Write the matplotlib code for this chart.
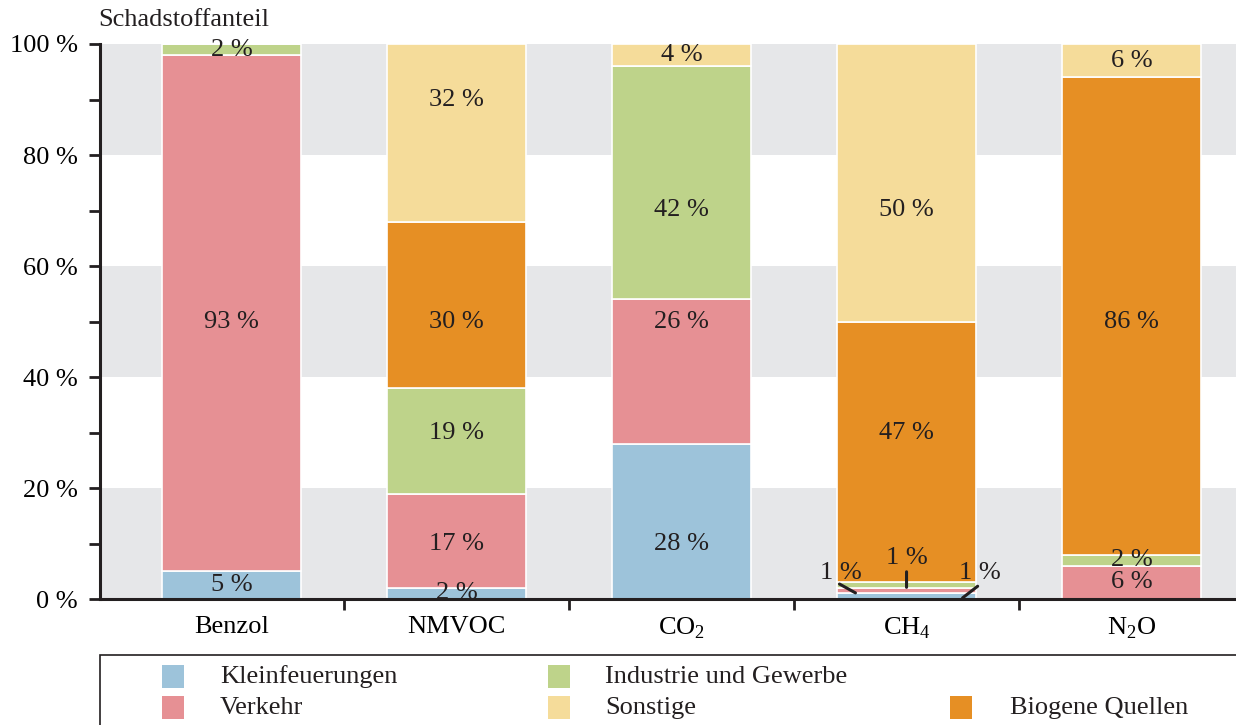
import matplotlib
matplotlib.use('Agg')
import matplotlib.pyplot as plt
from matplotlib.patches import Rectangle
import numpy as np

plt.rcParams['font.family'] = ['Liberation Serif', 'DejaVu Serif']
plt.rcParams['mathtext.fontset'] = 'custom'
plt.rcParams['mathtext.rm'] = 'Liberation Serif'
plt.rcParams['text.color'] = '#231F20'

categories = ['Benzol', 'NMVOC', r'CO$_\mathregular{2}$', r'CH$_\mathregular{4}$', r'N$_\mathregular{2}$O']
series = ['Kleinfeuerungen', 'Verkehr', 'Industrie und Gewerbe', 'Biogene Quellen', 'Sonstige']
kleinfeuerungen = [5, 2, 28, 1, 0]
verkehr = [93, 17, 26, 1, 6]
industrie = [2, 19, 42, 1, 2]
biogene = [0, 30, 0, 47, 86]
sonstige = [0, 32, 4, 50, 6]
colors = ['#9DC3DA', '#E69094', '#BED38A', '#E68F24', '#F5DC9A']

FS = 19
W, H = 1236, 725
fig = plt.figure(figsize=(W / 100, H / 100), dpi=100)


def fx(px):
    return px / W


def fy(py):
    return 1 - py / H


ax = fig.add_axes([fx(100), fy(599), fx(1236) - fx(100), fy(44) - fy(599)])
for lo in (0, 40, 80):
    ax.axhspan(lo, lo + 20, color='#E6E7E9', zorder=0, lw=0)

x = np.arange(len(categories))
width = 0.618
bottom = np.zeros(len(categories))
all_vals = [kleinfeuerungen, verkehr, industrie, biogene, sonstige]
mids = []
for vals, col, name in zip(all_vals, colors, series):
    vals = np.array(vals, dtype=float)
    ax.bar(x, vals, width, bottom=bottom, color=col, edgecolor='white', linewidth=1.2, zorder=2, label=name)
    mids.append(bottom + vals / 2)
    for i, v in enumerate(vals):
        if v < 2:
            continue
        ypos = bottom[i] + v / 2
        if v >= 10:
            # labels sit on the band centres (10, 30, 50, ...)
            ypos = 20 * round((ypos - 10) / 20) + 10
        ax.text(x[i], ypos, f'{int(v)} %', ha='center', va='center', fontsize=FS, zorder=3)
    bottom += vals

# small CH4 segments with leader lines
ci = 3
leaders = [
    # (label x offset, label y, line start x offset, line start y, line end x offset, segment index)
    (-0.293, 4.7, -0.298, 2.7, -0.227, 1),
    (0.0, 7.4, 0.0, 4.9, 0.0, 2),
    (0.324, 4.7, 0.316, 2.3, 0.249, 0),
]
for lx, ly, sx, sy, ex, si in leaders:
    ax.text(x[ci] + lx, ly, '1 %', ha='center', va='center', fontsize=FS, zorder=4)
    ax.annotate('', xy=(x[ci] + ex, mids[si][ci] - (0.3 if si == 0 else 0.4)),
                xytext=(x[ci] + sx, sy), zorder=4, annotation_clip=False,
                arrowprops=dict(arrowstyle='-', color='#231F20', lw=2.2, shrinkA=0, shrinkB=0))

ax.set_xlim(-0.584, 4.464)
ax.set_ylim(0, 100)
ax.set_yticks(range(0, 101, 20))
ax.set_yticklabels([f'{v} %' for v in range(0, 101, 20)], fontsize=FS)
ax.set_yticks(range(10, 100, 20), minor=True)
ax.set_xticks(np.arange(0.5, len(categories) - 1, 1))
ax.set_xticklabels([])
ax.set_xticks(x, minor=True)
ax.set_xticklabels(categories, minor=True, fontsize=FS)
ax.tick_params(axis='y', which='both', length=8, width=2, color='#231F20', pad=8)
ax.tick_params(axis='x', which='major', length=8, width=2, color='#231F20')
ax.tick_params(axis='x', which='minor', length=0, pad=12)
for s in ('top', 'right'):
    ax.spines[s].set_visible(False)
for s in ('left', 'bottom'):
    ax.spines[s].set_linewidth(2.2)
    ax.spines[s].set_color('#231F20')

fig.text(fx(98), fy(20), 'Schadstoffanteil', ha='left', va='center', fontsize=FS)

# legend box
fig.patches.append(Rectangle((fx(100), fy(735)), fx(1245) - fx(100), fy(655) - fy(735),
                             transform=fig.transFigure, fill=False, edgecolor='#231F20', lw=1.2))
legend_layout = [(0, 162, 220, 677), (1, 162, 220, 708), (2, 548, 605, 677),
                 (4, 548, 605, 708), (3, 950, 1010, 708)]
for si, hx, tx, ty in legend_layout:
    fig.patches.append(Rectangle((fx(hx), fy(ty + 11)), fx(22), 23 / H,
                                 transform=fig.transFigure, color=colors[si], lw=0))
    fig.text(fx(tx), fy(ty), series[si], ha='left', va='center', fontsize=FS)

fig.savefig('out.png', dpi=100)
